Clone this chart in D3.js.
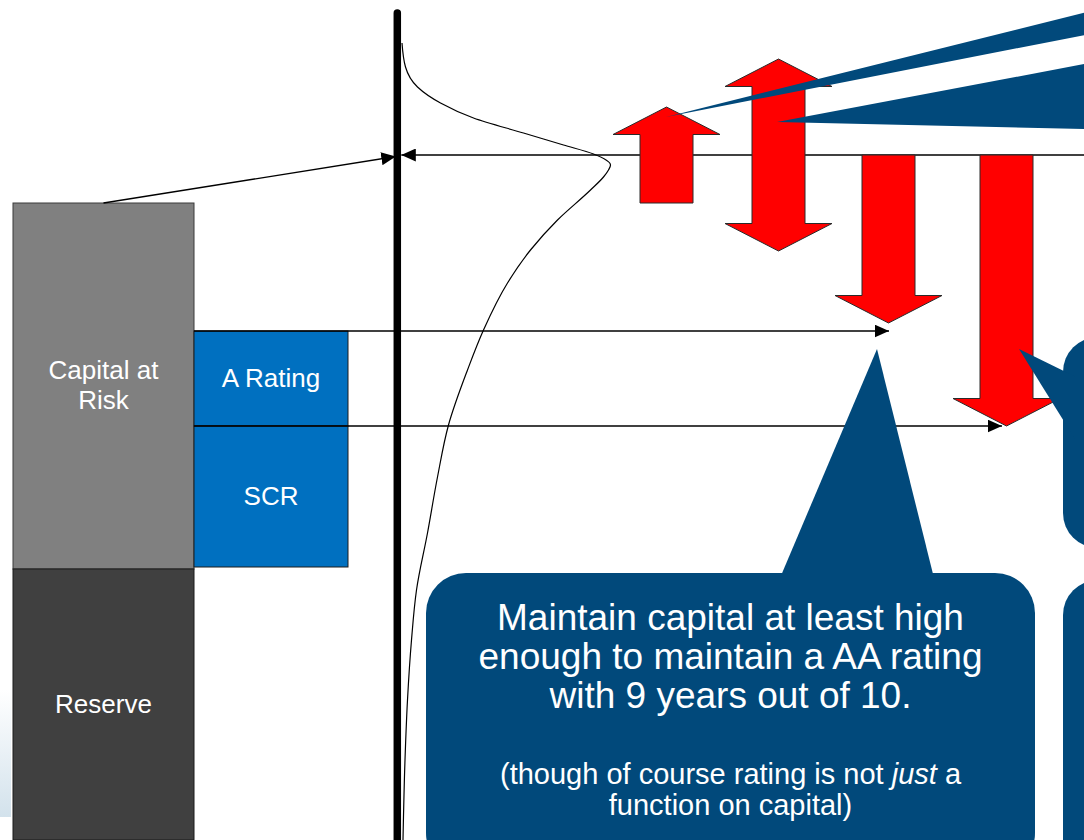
<!DOCTYPE html>
<html>
<head>
<meta charset="utf-8">
<script src="https://cdn.jsdelivr.net/npm/d3@7"></script>
<style>
  html, body { margin: 0; padding: 0; background: #ffffff; }
  svg { display: block; }
  text { font-family: "Liberation Sans", Arial, sans-serif; fill: #ffffff; }
</style>
</head>
<body>
<svg id="chart" width="1084" height="840"></svg>
<script>
// Capital levels are expressed relative to today's capital (0); negative = below.
const stackNames = ["Capital at|Risk", "Reserve"];
const stackTop = [-4.8, -41.4];
const stackBottom = [-41.4, -68.5];

const tierNames = ["A Rating", "SCR"];
const tierTop = [-17.6, -27.1];
const tierBottom = [-27.1, -41.2];

// One-year outcomes: where capital may end up, with arrow heads showing direction
const scenarioLow = [-4.8, -9.6, -16.8, -27.1];
const scenarioHigh = [4.8, 9.6, 0, 0];
const scenarioHeads = ["up", "both", "down", "down"];

// Distribution of next-year capital (level, density)
const outcomeLevel = [11.2, 8.8, 6.8, 5.2, 3.7, 2.2, 1.0, 0.1, -1.0, -1.5, -2.2, -3.5, -6.5, -9.5,
  -12.8, -17.5, -21.5, -27, -32.2, -37.8, -43.5, -48.5, -54.5, -60.5, -68.5];
const outcomeDensity = [0.05, 0.4, 1.6, 3.9, 7.2, 12.2, 16.2, 19.2, 20.9, 20.7, 20.2, 18.9, 15.6, 12.9,
  10.6, 8.2, 6.6, 4.7, 3.6, 2.6, 1.5, 1.0, 0.6, 0.35, 0.15];

const calloutMain = ["Maintain capital at least high", "enough to maintain a AA rating", "with 9 years out of 10."];

const svg = d3.select("#chart");
const W = 1084, H = 840;

const y = d3.scaleLinear().domain([0, -68.5]).range([155, 840]);
const dens = d3.scaleLinear().domain([0, 20.9]).range([401.5, 610.5]);

const axisX = 397.3;
const stackX = [13, 194];
const tierX = [194, 348];
const arrowCx = [666.5, 778.5, 888.5, 1006.5];
const tierTipX = [889, 1002];
const shaftHalf = 26.5, headHalf = 53.5, headLen = 27.5;
const navy = "#01497b";

const defs = svg.append("defs");
defs.append("marker")
  .attr("id", "head")
  .attr("markerUnits", "userSpaceOnUse")
  .attr("markerWidth", 15).attr("markerHeight", 13)
  .attr("refX", 14.5).attr("refY", 6.5)
  .attr("orient", "auto")
  .append("path").attr("d", "M0,0 L14.5,6.5 L0,13 Z").attr("fill", "#000");

const grad = defs.append("linearGradient").attr("id", "edgeFade")
  .attr("x1", 0).attr("y1", 0).attr("x2", 0).attr("y2", 1);
grad.append("stop").attr("offset", "0%").attr("stop-color", "#ffffff");
grad.append("stop").attr("offset", "100%").attr("stop-color", "#d3e2ec");

svg.append("rect").attr("x", 0).attr("y", 690).attr("width", 11).attr("height", 127)
  .attr("fill", "url(#edgeFade)");

// today's capital level
svg.append("line")
  .attr("x1", W + 10).attr("y1", y(0)).attr("x2", axisX + 4).attr("y2", y(0))
  .attr("stroke", "#000").attr("stroke-width", 1.3)
  .attr("marker-end", "url(#head)");

// capital stack
const stack = svg.append("g");
stackNames.forEach((name, i) => {
  stack.append("rect")
    .attr("x", stackX[0]).attr("y", y(stackTop[i]))
    .attr("width", stackX[1] - stackX[0]).attr("height", y(stackBottom[i]) - y(stackTop[i]))
    .attr("fill", i === 0 ? "#808080" : "#404040")
    .attr("stroke", i === 0 ? "#3a3a3a" : "#1a1a1a").attr("stroke-width", 1);
  const lines = name.split("|");
  const cy = (y(stackTop[i]) + y(stackBottom[i])) / 2;
  const lh = 30;
  const t = stack.append("text")
    .attr("text-anchor", "middle").attr("font-size", 26);
  lines.forEach((ln, k) => {
    t.append("tspan")
      .attr("x", (stackX[0] + stackX[1]) / 2)
      .attr("y", cy + 8 + (k - (lines.length - 1) / 2) * lh)
      .text(ln);
  });
});

// required capital tiers
tierNames.forEach((name, i) => {
  stack.append("rect")
    .attr("x", tierX[0]).attr("y", y(tierTop[i]))
    .attr("width", tierX[1] - tierX[0]).attr("height", y(tierBottom[i]) - y(tierTop[i]))
    .attr("fill", "#0070c0").attr("stroke", "#1c1c1c").attr("stroke-width", 1);
  stack.append("text")
    .attr("x", (tierX[0] + tierX[1]) / 2)
    .attr("y", (y(tierTop[i]) + y(tierBottom[i])) / 2 + 8.5)
    .attr("text-anchor", "middle").attr("font-size", 26)
    .text(name);
});

// tier thresholds carried across to the outcomes
tierNames.forEach((name, i) => {
  svg.append("line")
    .attr("x1", tierX[0]).attr("y1", y(tierTop[i]))
    .attr("x2", tierTipX[i]).attr("y2", y(tierTop[i]))
    .attr("stroke", "#000").attr("stroke-width", 1.3)
    .attr("marker-end", "url(#head)");
});

// link from stack to today's level
svg.append("line")
  .attr("x1", (stackX[0] + stackX[1]) / 2).attr("y1", y(stackTop[0]))
  .attr("x2", axisX - 1.5).attr("y2", y(0) + 1.5)
  .attr("stroke", "#000").attr("stroke-width", 1.3)
  .attr("marker-end", "url(#head)");

// capital axis
svg.append("line")
  .attr("x1", axisX).attr("y1", 13).attr("x2", axisX).attr("y2", H + 10)
  .attr("stroke", "#000").attr("stroke-width", 7.5).attr("stroke-linecap", "round");

// distribution of outcomes
const curve = d3.line()
  .x(d => dens(d[1]))
  .y(d => y(d[0]))
  .curve(d3.curveMonotoneY);
svg.append("path")
  .datum(d3.zip(outcomeLevel, outcomeDensity))
  .attr("d", curve)
  .attr("fill", "none").attr("stroke", "#000").attr("stroke-width", 1.2);

// scenario arrows
function arrowPoints(cx, lo, hi, heads) {
  const top = y(hi), bot = y(lo);
  const pts = [];
  if (heads === "up" || heads === "both") {
    pts.push([cx, top], [cx + headHalf, top + headLen], [cx + shaftHalf, top + headLen]);
  } else {
    pts.push([cx + shaftHalf, top]);
  }
  if (heads === "down" || heads === "both") {
    pts.push([cx + shaftHalf, bot - headLen], [cx + headHalf, bot - headLen], [cx, bot],
      [cx - headHalf, bot - headLen], [cx - shaftHalf, bot - headLen]);
  } else {
    pts.push([cx + shaftHalf, bot], [cx - shaftHalf, bot]);
  }
  if (heads === "up" || heads === "both") {
    pts.push([cx - shaftHalf, top + headLen], [cx - headHalf, top + headLen]);
  } else {
    pts.push([cx - shaftHalf, top]);
  }
  return pts;
}
svg.append("g").selectAll("polygon")
  .data(scenarioLow.map((lo, i) => ({ lo, hi: scenarioHigh[i], heads: scenarioHeads[i], cx: arrowCx[i] })))
  .join("polygon")
  .attr("points", d => arrowPoints(d.cx, d.lo, d.hi, d.heads).map(p => p.join(",")).join(" "))
  .attr("fill", "#ff0000").attr("stroke", "#2a2a2a").attr("stroke-width", 1)
  .attr("stroke-linejoin", "miter");

// callouts
const callouts = svg.append("g").attr("fill", navy);
// pointers from callouts outside the frame
callouts.append("polygon").attr("points", "666,117 1095,10 1095,33");
callouts.append("polygon").attr("points", "777,122 1095,62 1095,129.3");
// right-hand callouts
callouts.append("rect").attr("x", 1063).attr("y", 337).attr("width", 120).attr("height", 211).attr("rx", 35);
callouts.append("polygon").attr("points", "1019,349 1075,376.5 1075,439");
callouts.append("rect").attr("x", 1063).attr("y", 580).attr("width", 120).attr("height", 320).attr("rx", 35);
// main callout
callouts.append("polygon").attr("points", "877,349 780,578 934,578");
callouts.append("rect").attr("x", 426).attr("y", 573).attr("width", 609).attr("height", 300).attr("rx", 40);

const cxMain = 730.5;
const mainText = svg.append("text").attr("text-anchor", "middle").attr("font-size", 37);
calloutMain.forEach((ln, k) => {
  mainText.append("tspan").attr("x", cxMain).attr("y", 630 + k * 39).text(ln);
});
const sub = svg.append("text").attr("text-anchor", "middle").attr("font-size", 29);
const s1 = sub.append("tspan").attr("x", cxMain).attr("y", 784);
s1.append("tspan").text("(though of course rating is not ");
s1.append("tspan").attr("font-style", "italic").text("just");
s1.append("tspan").text(" a");
sub.append("tspan").attr("x", cxMain).attr("y", 815).text("function on capital)");
</script>
</body>
</html>
